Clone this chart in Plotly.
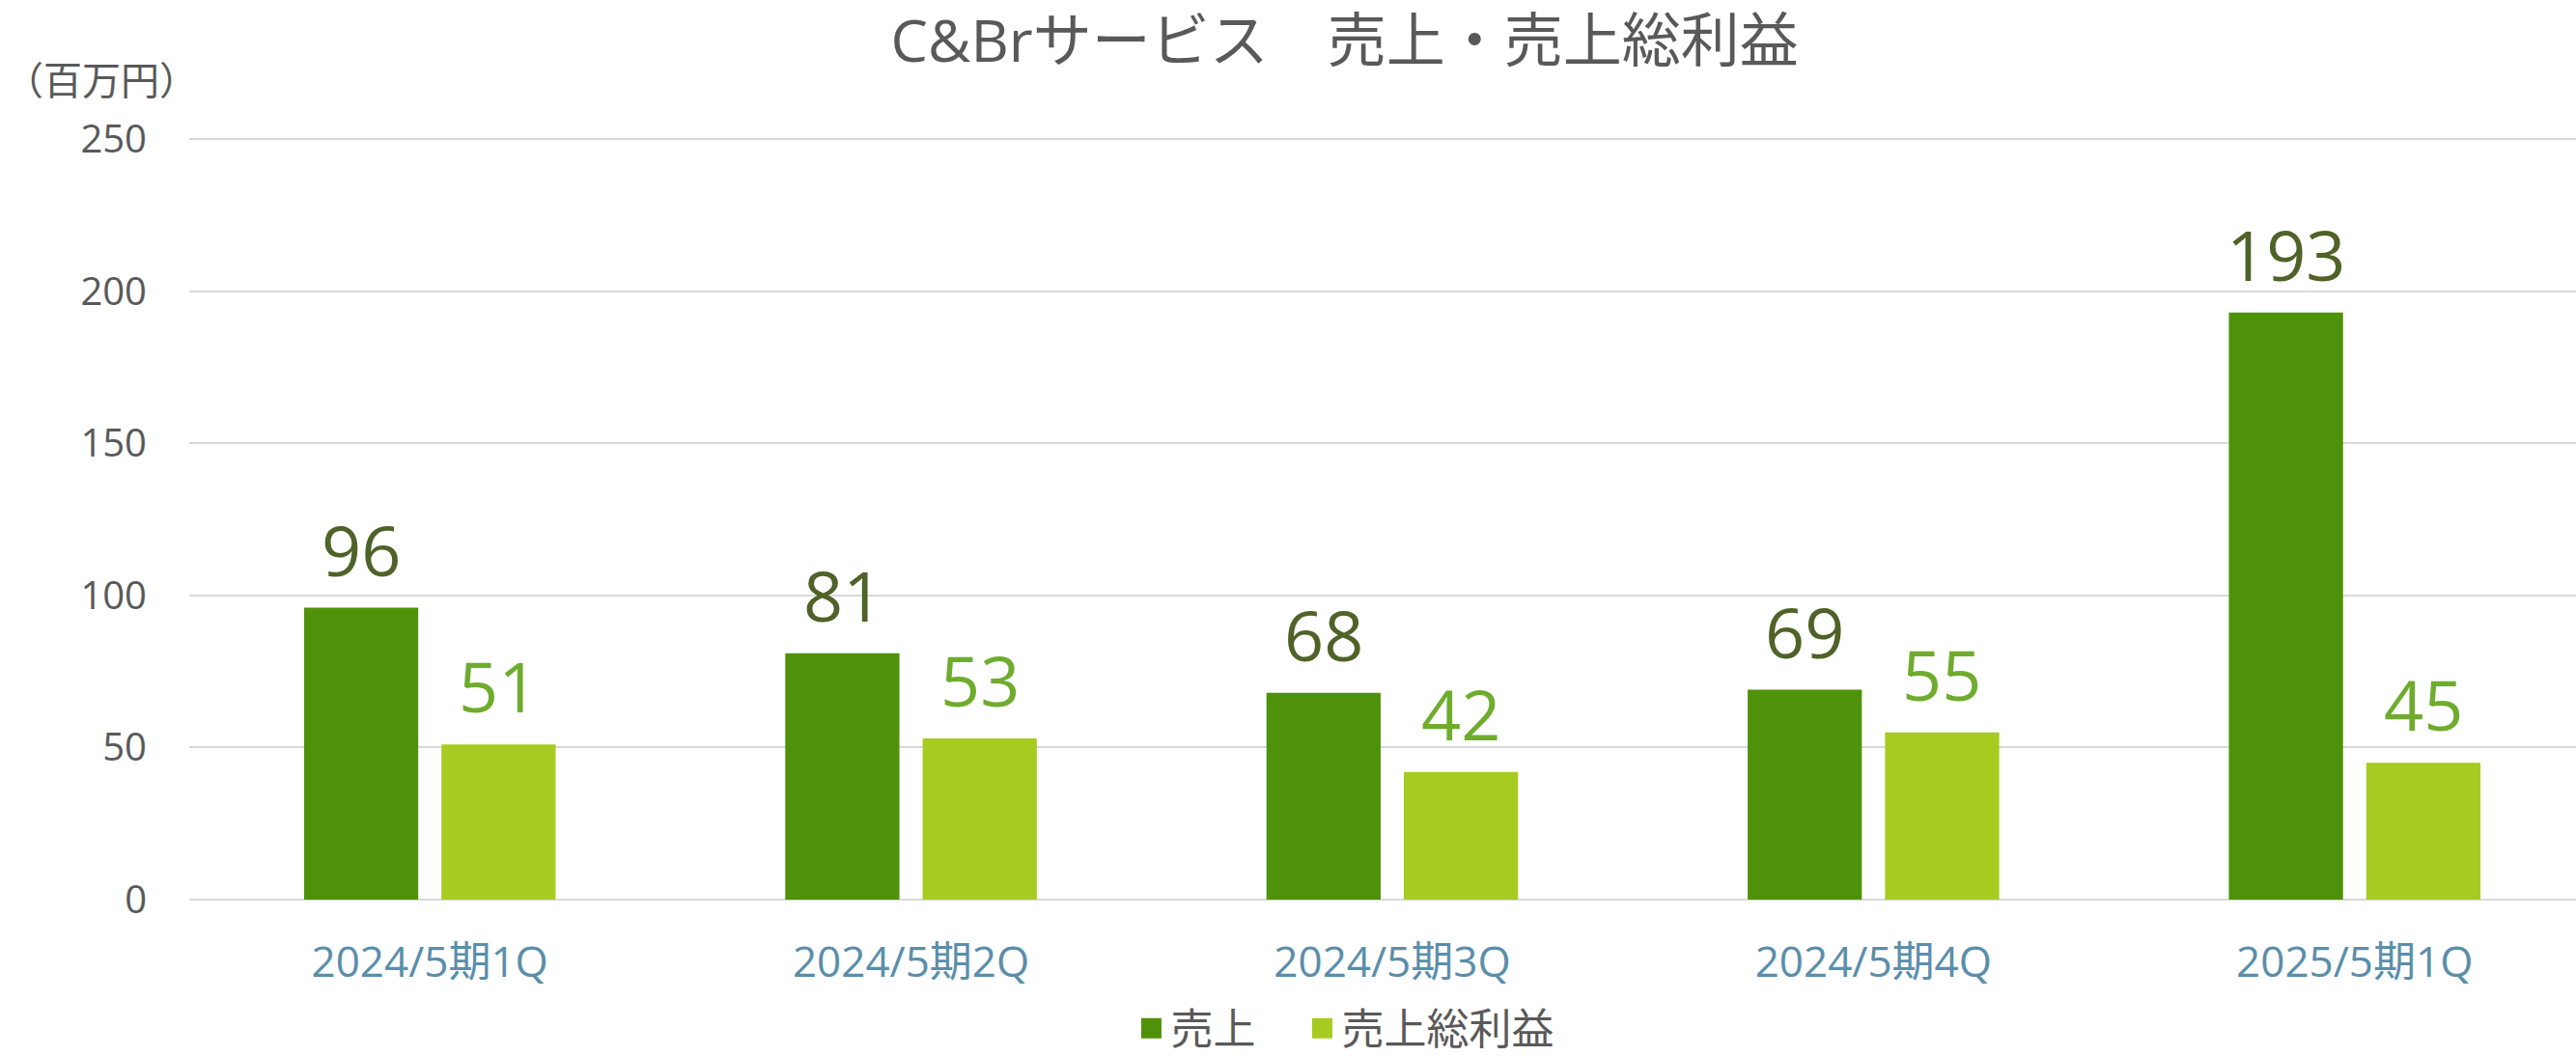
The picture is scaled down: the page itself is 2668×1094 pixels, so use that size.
import plotly.graph_objects as go

categories = ["2024/5期1Q", "2024/5期2Q", "2024/5期3Q", "2024/5期4Q", "2025/5期1Q"]
sales = [96, 81, 68, 69, 193]
gross_profit = [51, 53, 42, 55, 45]
y_ticks = [0, 50, 100, 150, 200, 250]
series_names = ["売上", "売上総利益"]

LATIN = "Century Gothic, Open Sans, Noto Sans CJK JP, sans-serif"
GRAY = "#595959"
C_SALES = "#4E9209"
C_GP = "#A7CB21"
C_SALES_LBL = "#4F6228"
C_GP_LBL = "#6FAC2E"

fig = go.Figure()
fig.add_trace(go.Bar(name=series_names[0], x=categories, y=sales, marker_color=C_SALES,
                     marker_line_width=0, showlegend=False))
fig.add_trace(go.Bar(name=series_names[1], x=categories, y=gross_profit, marker_color=C_GP,
                     marker_line_width=0, showlegend=False))
# legend entries with larger square keys
for nm, col, lw in zip(series_names, [C_SALES, C_GP], [132, None]):
    fig.add_trace(go.Scatter(name=nm, x=[None], y=[None], mode="markers",
                             legendwidth=lw,
                             marker=dict(symbol="square", size=26, color=col,
                                         line=dict(width=6, color=col))))

# data labels
for cat, v in zip(categories, sales):
    fig.add_annotation(x=cat, y=v, text=str(v), showarrow=False, xshift=-71, yshift=61,
                       yanchor="middle", font=dict(family=LATIN, size=72, color=C_SALES_LBL))
for cat, v in zip(categories, gross_profit):
    fig.add_annotation(x=cat, y=v, text=str(v), showarrow=False, xshift=71, yshift=61,
                       yanchor="middle", font=dict(family=LATIN, size=72, color=C_GP_LBL))

fig.add_annotation(text="（百万円）", xref="paper", yref="paper", x=-0.078, y=1.077,
                   xanchor="left", yanchor="middle", showarrow=False,
                   font=dict(family=LATIN, size=40, color=GRAY))

fig.update_layout(
    width=2668, height=1094,
    margin=dict(l=196, r=0, t=143, b=162, autoexpand=False),
    paper_bgcolor="white", plot_bgcolor="white",
    barmode="group", bargap=0.429, bargroupgap=0.169,
    title=dict(text="C&Brサービス　売上・売上総利益", x=0.522, xanchor="center",
               y=0.961, yanchor="middle",
               font=dict(family=LATIN, size=61, color=GRAY)),
    legend=dict(orientation="h", x=0.395, xanchor="left", yref="container", y=0.026,
                yanchor="middle", font=dict(family=LATIN, size=44, color=GRAY),
                itemwidth=30, traceorder="normal"),
    xaxis=dict(range=[-0.5, 4.46], showgrid=False, showline=False, zeroline=False,
               automargin=False,
               ticks="outside", ticklen=26, tickcolor="rgba(0,0,0,0)",
               tickfont=dict(family=LATIN, size=44, color="#5A8EAB")),
    yaxis=dict(range=[0, 250.4], tickvals=y_ticks, showgrid=True, gridcolor="#D9D9D9",
               gridwidth=2, zeroline=True, zerolinecolor="#D9D9D9", zerolinewidth=2,
               automargin=False,
               showline=False, ticks="outside", ticklen=35, tickcolor="rgba(0,0,0,0)",
               tickfont=dict(family=LATIN, size=40, color=GRAY)),
)

fig.write_html("out.html")
